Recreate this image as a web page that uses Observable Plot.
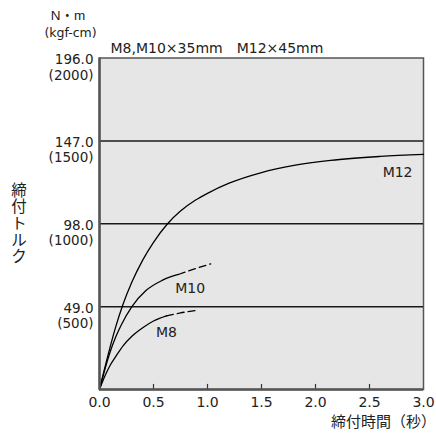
<!DOCTYPE html>
<html>
<head>
<meta charset="utf-8">
<script src="https://cdn.jsdelivr.net/npm/d3@7"></script>
<script src="https://cdn.jsdelivr.net/npm/@observablehq/plot@0.6"></script>
<style>
  html, body { margin: 0; padding: 0; background: #fff; }
  #chart svg { display: block; }
</style>
</head>
<body>
<div id="chart"></div>
<script>
// ---- data ----
const xTicks = [0, 0.5, 1.0, 1.5, 2.0, 2.5, 3.0];
const yTicksNm = [49, 98, 147, 196];
const yTicksKgf = [500, 1000, 1500, 2000];
const gridValues = [49, 98, 147];

// M12 (solid)
const m12T = [0, 0.05, 0.1, 0.15, 0.213, 0.3, 0.4, 0.5, 0.63, 0.75, 0.89, 1.0, 1.2, 1.5, 1.8, 2.14, 2.6, 3.0];
const m12V = [0, 13, 25.5, 37, 49.5, 63.5, 76.5, 87, 98, 105.5, 112, 116, 122, 128.3, 132.5, 135.5, 137.8, 139];
// M10 (solid part, then dashed)
const m10T = [0, 0.05, 0.1, 0.15, 0.2, 0.3, 0.43, 0.58, 0.73];
const m10V = [0, 12, 22.5, 31, 38, 49, 58.5, 64.5, 68];
const m10DashT = [0.73, 0.88, 1.03];
const m10DashV = [68, 71.3, 74.3];
// M8 (solid part, then dashed)
const m8T = [0, 0.05, 0.1, 0.15, 0.22, 0.3, 0.4, 0.5, 0.62];
const m8V = [0, 8, 14.5, 19.5, 26, 31.5, 36.5, 40.5, 43.5];
const m8DashT = [0.62, 0.75, 0.89];
const m8DashV = [43.5, 45.3, 46.7];

const seriesLabels = ["M12", "M10", "M8"];
const labelT = [2.76, 0.84, 0.62];
const labelV = [128.5, 59.7, 33.4];

const unitTop = "N・m";
const unitBottom = "(kgf-cm)";
const boltNote = "M8,M10×35mm　M12×45mm";
const yTitle = "締付トルク";
const xTitle = "締付時間（秒）";

// ---- build ----
const zip = (ts, vs) => ts.map((t, i) => ({t, v: vs[i]}));
const labels = seriesLabels.map((s, i) => ({s, t: labelT[i], v: labelV[i]}));
const yLabel = d => {
  const i = yTicksNm.indexOf(d);
  return d.toFixed(1) + "\n(" + yTicksKgf[i] + ")";
};

const FONT = "'DejaVu Sans', 'Noto Sans CJK JP', sans-serif";
const INK = "#222";
const dash = "7,4";

const chart = Plot.plot({
  width: 436,
  height: 434,
  marginLeft: 99,
  marginRight: 13,
  marginTop: 57.5,
  marginBottom: 45,
  style: {fontFamily: FONT, fontSize: "13px", color: INK, background: "#fff"},
  x: {domain: [0, 3], label: null},
  y: {domain: [0, 196], label: null},
  marks: [
    Plot.frame({fill: "#e6e6e6", stroke: "#555", strokeWidth: 1.5}),
    Plot.ruleY(gridValues, {stroke: "#1a1a1a", strokeWidth: 1.5}),
    Plot.ruleX(xTicks.slice(1, -1), {x: d => d, y1: 0, y2: 3, stroke: "#333", strokeWidth: 1.2}),
    Plot.line(zip(m12T, m12V), {x: "t", y: "v", curve: "monotone-x", stroke: "#000", strokeWidth: 1.3}),
    Plot.line(zip(m10T, m10V), {x: "t", y: "v", curve: "monotone-x", stroke: "#000", strokeWidth: 1.3}),
    Plot.line(zip(m10DashT, m10DashV), {x: "t", y: "v", curve: "monotone-x", stroke: "#000", strokeWidth: 1.3, strokeDasharray: dash}),
    Plot.line(zip(m8T, m8V), {x: "t", y: "v", curve: "monotone-x", stroke: "#000", strokeWidth: 1.3}),
    Plot.line(zip(m8DashT, m8DashV), {x: "t", y: "v", curve: "monotone-x", stroke: "#000", strokeWidth: 1.3, strokeDasharray: dash}),
    Plot.ruleX([0], {stroke: "#555", strokeWidth: 2.5}),
    Plot.ruleY([0], {stroke: "#555", strokeWidth: 2.5}),
    Plot.text(labels, {x: "t", y: "v", text: "s", fontSize: 14, fill: INK, textAnchor: "middle", lineAnchor: "middle"}),
    Plot.axisX({ticks: xTicks, tickFormat: d => d.toFixed(1), tickSize: 0, tickPadding: 8, fontSize: 14, label: null}),
    Plot.axisY({ticks: yTicksNm, tickFormat: yLabel, tickSize: 0, tickPadding: 6, fontSize: 13.5,
      lineAnchor: "top", lineHeight: 1.15, dy: -5, label: null}),
    Plot.text([unitTop], {frameAnchor: "top-left", dx: -31.5, dy: -42, fontSize: 13.5, fill: INK,
      textAnchor: "middle", lineAnchor: "middle", fontFamily: "'Liberation Sans', 'Noto Sans CJK JP', sans-serif"}),
    Plot.text([unitBottom], {frameAnchor: "top-left", dx: -29, dy: -25.5, fontSize: 12.5, fill: INK,
      textAnchor: "middle", lineAnchor: "middle"}),
    Plot.text([boltNote], {frameAnchor: "top-left", dx: 11, dy: -9.5, fontSize: 14, fill: INK,
      textAnchor: "start", lineAnchor: "middle"}),
    Plot.text([yTitle.split("").join("\n")], {frameAnchor: "left", dx: -80.5, fontSize: 15.5, lineHeight: 1.07, fill: INK,
      textAnchor: "middle", lineAnchor: "middle"}),
    Plot.text([xTitle], {frameAnchor: "bottom-right", dx: 12.5, dy: 33, fontSize: 15, fill: INK,
      textAnchor: "end", lineAnchor: "middle"})
  ]
});
document.getElementById("chart").appendChild(chart);
</script>
</body>
</html>
